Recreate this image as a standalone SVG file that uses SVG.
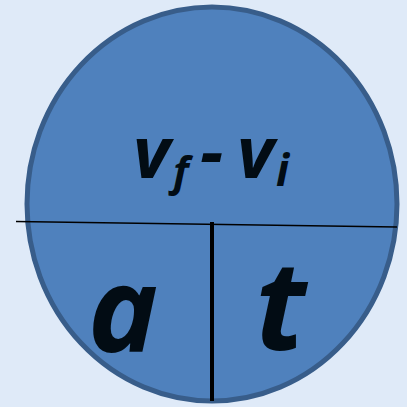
<svg xmlns="http://www.w3.org/2000/svg" width="407" height="407" viewBox="0 0 407 407">
<style>
.t{font-family:"Open Sans","Noto Sans","DejaVu Sans",sans-serif;font-weight:bold;font-style:italic;fill:#020c14}
</style>
<rect width="407" height="407" fill="#dfeaf8"/>
<g id="circle">
<ellipse cx="212" cy="204" rx="185" ry="197" fill="#4f81bd" stroke="#385d8a" stroke-width="5"/>
</g>
<g id="connectors">
<line x1="16" y1="221.5" x2="397" y2="227" stroke="#000" stroke-width="1.6"/>
<line x1="212" y1="222" x2="212" y2="401" stroke="#000" stroke-width="4"/>
</g>
<g id="top-label">
<text class="t" x="133" y="178" font-size="72">v<tspan x="173" y="186" font-size="42">f</tspan><tspan x="200" y="177">-</tspan><tspan x="237" y="178">v</tspan><tspan x="276" y="186" font-size="44">i</tspan></text>
</g>
<g id="a-label"><text class="t" x="88" y="352" font-size="118">a</text></g>
<g id="t-label"><text class="t" x="255" y="350" font-size="124">t</text></g>
</svg>
